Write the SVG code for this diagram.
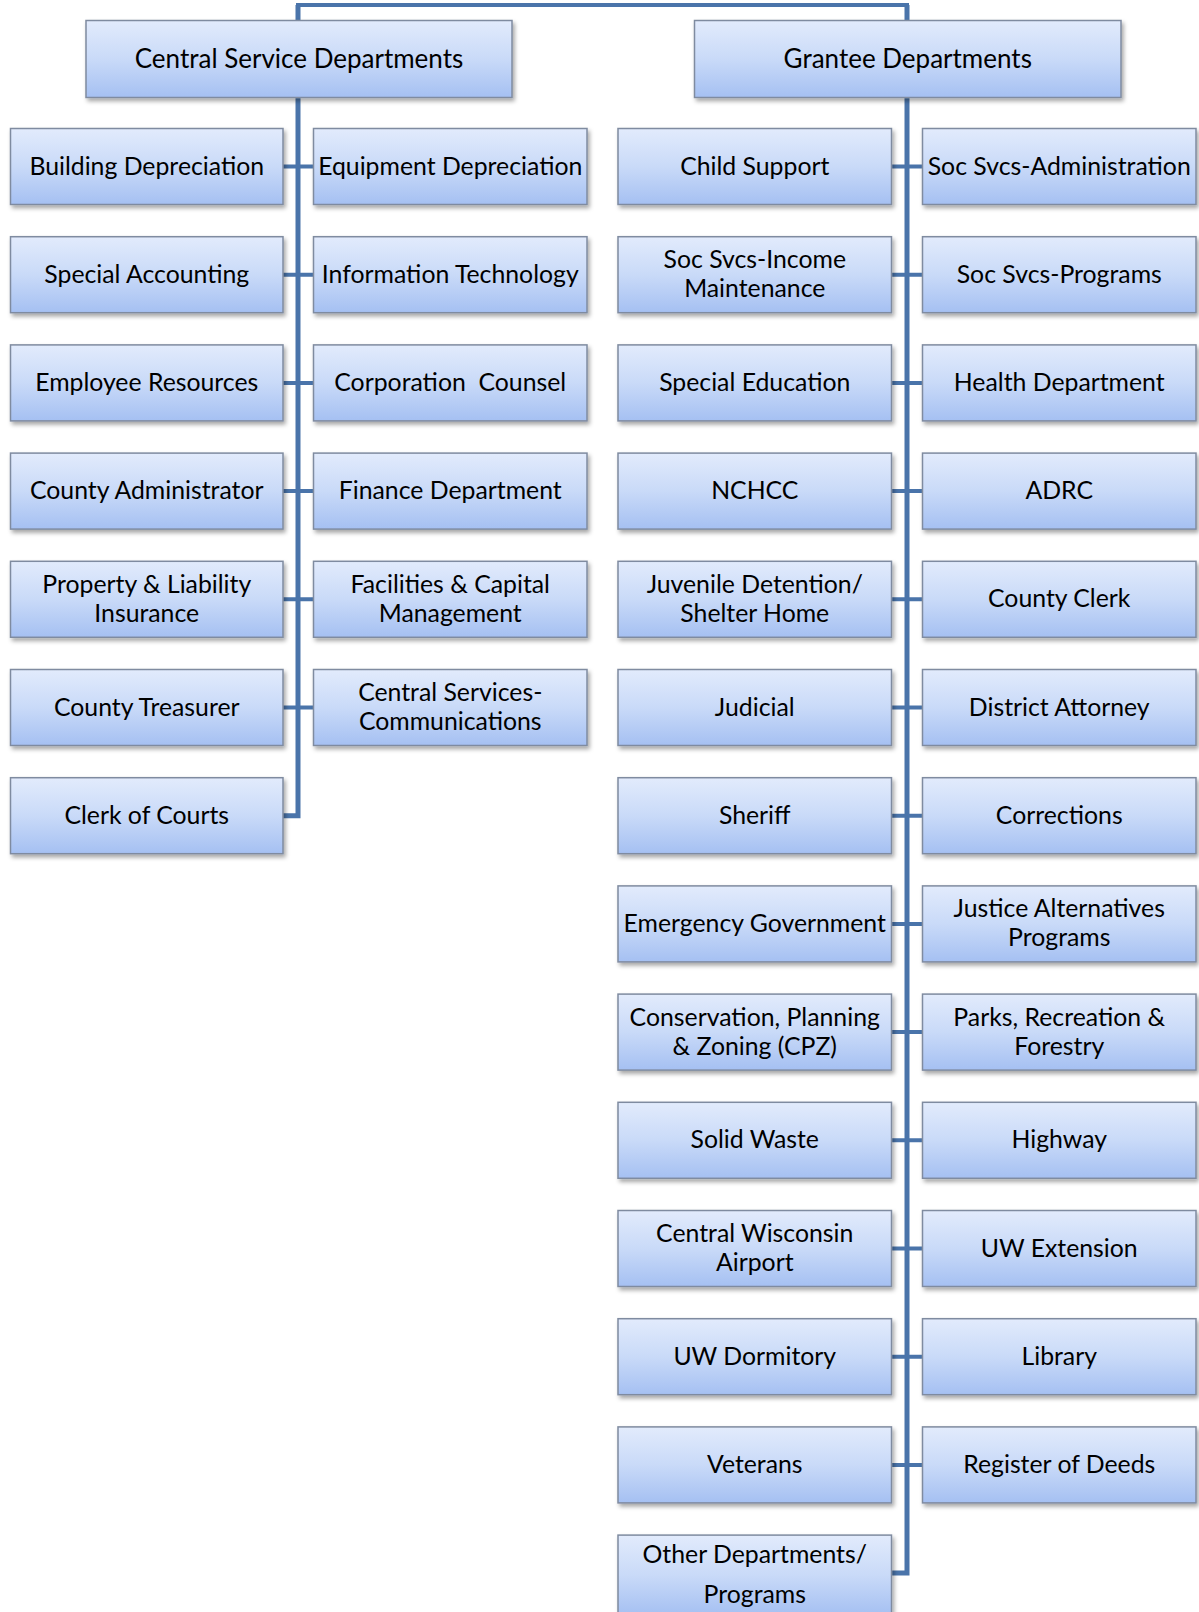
<svg xmlns="http://www.w3.org/2000/svg" width="1199" height="1612" viewBox="0 0 1199 1612">
<defs>
<linearGradient id="g" x1="0" y1="0" x2="0" y2="1">
<stop offset="0" stop-color="#e2ebfc"/>
<stop offset="0.5" stop-color="#c9daf8"/>
<stop offset="1" stop-color="#a5c0f2"/>
</linearGradient>
<filter id="sh" x="-10%" y="-10%" width="120%" height="130%">
<feDropShadow dx="2" dy="3" stdDeviation="2" flood-color="#000" flood-opacity="0.35"/>
</filter>
</defs>
<style>
.box{fill:url(#g);stroke:#7f8ba0;stroke-width:1.5;filter:url(#sh)}
.t{font-family:Lato,"Open Sans","Liberation Sans",sans-serif;font-size:24.8px;text-anchor:middle;fill:#000}
.tt{font-size:26px}
.v{stroke:#4a74aa;stroke-width:5;fill:none}
.h{stroke:#4a74aa;stroke-width:4;fill:none}
</style>
<rect width="1199" height="1612" fill="#fff"/>
<g id="connectors">
<polyline class="h" points="298,18 298,5 907,5 907,18"/>
<polyline class="v" points="298,5 298,815.7 283,815.7"/>
<polyline class="v" points="907,5 907,1573.1 891.5,1573.1"/>
<path class="h" d="M283,166.5H313.5M283,274.7H313.5M283,382.9H313.5M283,491.1H313.5M283,599.3H313.5M283,707.5H313.5"/>
<path class="h" d="M891.5,166.5H922.5M891.5,274.7H922.5M891.5,382.9H922.5M891.5,491.1H922.5M891.5,599.3H922.5M891.5,707.5H922.5M891.5,815.7H922.5M891.5,923.9H922.5M891.5,1032.1H922.5M891.5,1140.3H922.5M891.5,1248.5H922.5M891.5,1356.7H922.5M891.5,1464.9H922.5"/>
</g>
<g id="central"><rect class="box" x="86" y="20.5" width="426" height="77"/><text class="t tt" x="299" y="67.5">Central Service Departments</text></g>
<g id="grantee"><rect class="box" x="694.5" y="20.5" width="426.5" height="77"/><text class="t tt" x="907.75" y="67.5">Grantee Departments</text></g>

<g id="building-depreciation"><rect class="box" x="10.5" y="128.5" width="272.5" height="76"/><text class="t" x="146.75" y="174.5">Building Depreciation</text></g>
<g id="special-accounting"><rect class="box" x="10.5" y="236.7" width="272.5" height="76"/><text class="t" x="146.75" y="282.7">Special Accounting</text></g>
<g id="employee-resources"><rect class="box" x="10.5" y="344.9" width="272.5" height="76"/><text class="t" x="146.75" y="390.9">Employee Resources</text></g>
<g id="county-administrator"><rect class="box" x="10.5" y="453.1" width="272.5" height="76"/><text class="t" x="146.75" y="499.1">County Administrator</text></g>
<g id="property-liability"><rect class="box" x="10.5" y="561.3" width="272.5" height="76"/><text class="t" x="146.75" y="592.8">Property &amp; Liability</text><text class="t" x="146.75" y="621.8">Insurance</text></g>
<g id="county-treasurer"><rect class="box" x="10.5" y="669.5" width="272.5" height="76"/><text class="t" x="146.75" y="715.5">County Treasurer</text></g>
<g id="clerk-of-courts"><rect class="box" x="10.5" y="777.7" width="272.5" height="76"/><text class="t" x="146.75" y="823.7">Clerk of Courts</text></g>

<g id="equipment-depreciation"><rect class="box" x="313.5" y="128.5" width="273.5" height="76"/><text class="t" x="450.25" y="174.5">Equipment Depreciation</text></g>
<g id="information-technology"><rect class="box" x="313.5" y="236.7" width="273.5" height="76"/><text class="t" x="450.25" y="282.7">Information Technology</text></g>
<g id="corporation-counsel"><rect class="box" x="313.5" y="344.9" width="273.5" height="76"/><text class="t" x="450.25" y="390.9" xml:space="preserve">Corporation  Counsel</text></g>
<g id="finance-department"><rect class="box" x="313.5" y="453.1" width="273.5" height="76"/><text class="t" x="450.25" y="499.1">Finance Department</text></g>
<g id="facilities-capital"><rect class="box" x="313.5" y="561.3" width="273.5" height="76"/><text class="t" x="450.25" y="592.8">Facilities &amp; Capital</text><text class="t" x="450.25" y="621.8">Management</text></g>
<g id="central-services-communications"><rect class="box" x="313.5" y="669.5" width="273.5" height="76"/><text class="t" x="450.25" y="701">Central Services-</text><text class="t" x="450.25" y="730">Communications</text></g>

<g id="child-support"><rect class="box" x="618" y="128.5" width="273.5" height="76"/><text class="t" x="754.75" y="174.5">Child Support</text></g>
<g id="soc-svcs-income"><rect class="box" x="618" y="236.7" width="273.5" height="76"/><text class="t" x="754.75" y="268.2">Soc Svcs-Income</text><text class="t" x="754.75" y="297.2">Maintenance</text></g>
<g id="special-education"><rect class="box" x="618" y="344.9" width="273.5" height="76"/><text class="t" x="754.75" y="390.9">Special Education</text></g>
<g id="nchcc"><rect class="box" x="618" y="453.1" width="273.5" height="76"/><text class="t" x="754.75" y="499.1">NCHCC</text></g>
<g id="juvenile-detention"><rect class="box" x="618" y="561.3" width="273.5" height="76"/><text class="t" x="754.75" y="592.8">Juvenile Detention/</text><text class="t" x="754.75" y="621.8">Shelter Home</text></g>
<g id="judicial"><rect class="box" x="618" y="669.5" width="273.5" height="76"/><text class="t" x="754.75" y="715.5">Judicial</text></g>
<g id="sheriff"><rect class="box" x="618" y="777.7" width="273.5" height="76"/><text class="t" x="754.75" y="823.7">Sheriff</text></g>
<g id="emergency-government"><rect class="box" x="618" y="885.9" width="273.5" height="76"/><text class="t" x="754.75" y="931.9">Emergency Government</text></g>
<g id="cpz"><rect class="box" x="618" y="994.1" width="273.5" height="76"/><text class="t" x="754.75" y="1025.6">Conservation, Planning</text><text class="t" x="754.75" y="1054.6">&amp; Zoning (CPZ)</text></g>
<g id="solid-waste"><rect class="box" x="618" y="1102.3" width="273.5" height="76"/><text class="t" x="754.75" y="1148.3">Solid Waste</text></g>
<g id="cw-airport"><rect class="box" x="618" y="1210.5" width="273.5" height="76"/><text class="t" x="754.75" y="1242">Central Wisconsin</text><text class="t" x="754.75" y="1271">Airport</text></g>
<g id="uw-dormitory"><rect class="box" x="618" y="1318.7" width="273.5" height="76"/><text class="t" x="754.75" y="1364.7">UW Dormitory</text></g>
<g id="veterans"><rect class="box" x="618" y="1426.9" width="273.5" height="76"/><text class="t" x="754.75" y="1472.9">Veterans</text></g>
<g id="other-departments"><rect class="box" x="618" y="1535.1" width="273.5" height="80"/><text class="t" x="754.75" y="1562.5">Other Departments/</text><text class="t" x="754.75" y="1603">Programs</text></g>

<g id="soc-svcs-administration"><rect class="box" x="922.5" y="128.5" width="273.5" height="76"/><text class="t" x="1059.25" y="174.5">Soc Svcs-Administration</text></g>
<g id="soc-svcs-programs"><rect class="box" x="922.5" y="236.7" width="273.5" height="76"/><text class="t" x="1059.25" y="282.7">Soc Svcs-Programs</text></g>
<g id="health-department"><rect class="box" x="922.5" y="344.9" width="273.5" height="76"/><text class="t" x="1059.25" y="390.9">Health Department</text></g>
<g id="adrc"><rect class="box" x="922.5" y="453.1" width="273.5" height="76"/><text class="t" x="1059.25" y="499.1">ADRC</text></g>
<g id="county-clerk"><rect class="box" x="922.5" y="561.3" width="273.5" height="76"/><text class="t" x="1059.25" y="607.3">County Clerk</text></g>
<g id="district-attorney"><rect class="box" x="922.5" y="669.5" width="273.5" height="76"/><text class="t" x="1059.25" y="715.5">District Attorney</text></g>
<g id="corrections"><rect class="box" x="922.5" y="777.7" width="273.5" height="76"/><text class="t" x="1059.25" y="823.7">Corrections</text></g>
<g id="justice-alternatives"><rect class="box" x="922.5" y="885.9" width="273.5" height="76"/><text class="t" x="1059.25" y="917.4">Justice Alternatives</text><text class="t" x="1059.25" y="946.4">Programs</text></g>
<g id="parks-recreation"><rect class="box" x="922.5" y="994.1" width="273.5" height="76"/><text class="t" x="1059.25" y="1025.6">Parks, Recreation &amp;</text><text class="t" x="1059.25" y="1054.6">Forestry</text></g>
<g id="highway"><rect class="box" x="922.5" y="1102.3" width="273.5" height="76"/><text class="t" x="1059.25" y="1148.3">Highway</text></g>
<g id="uw-extension"><rect class="box" x="922.5" y="1210.5" width="273.5" height="76"/><text class="t" x="1059.25" y="1256.5">UW Extension</text></g>
<g id="library"><rect class="box" x="922.5" y="1318.7" width="273.5" height="76"/><text class="t" x="1059.25" y="1364.7">Library</text></g>
<g id="register-of-deeds"><rect class="box" x="922.5" y="1426.9" width="273.5" height="76"/><text class="t" x="1059.25" y="1472.9">Register of Deeds</text></g>
</svg>
